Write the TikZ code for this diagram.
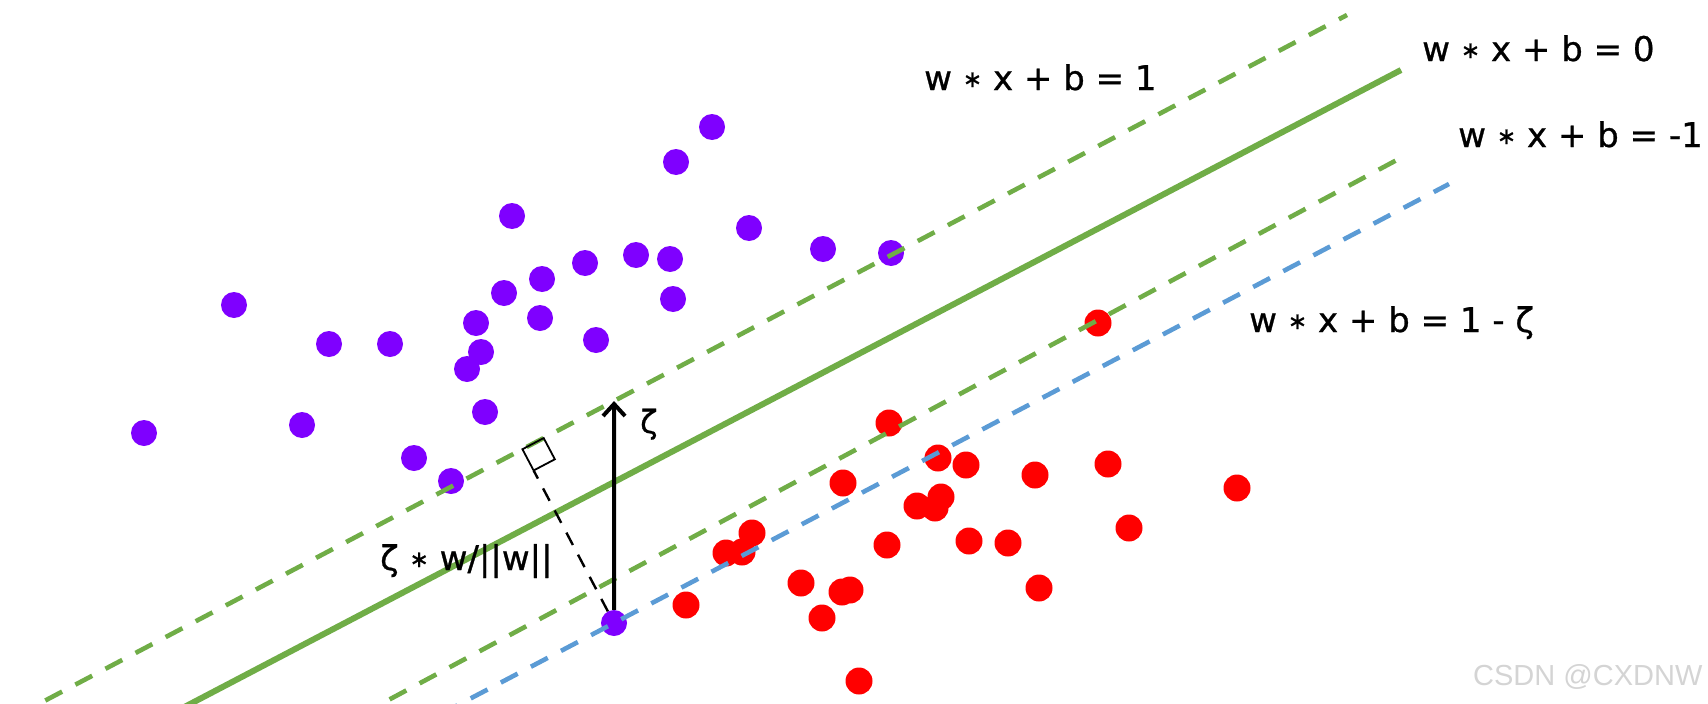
\documentclass[tikz,border=0pt]{standalone}
\usepackage{fontspec}
\usepackage{graphicx}
\setmainfont{DejaVu Sans}
\newfontfamily\labfont[FakeBold=0.8]{DejaVu Sans}
\newfontfamily\wmfont{Liberation Sans}
\usetikzlibrary{calc,arrows.meta}
\definecolor{svmgreen}{HTML}{70AD47}
\definecolor{svmblue}{HTML}{5B9BD5}
\definecolor{dotpurple}{HTML}{7F00FF}
\definecolor{dotred}{HTML}{FF0000}
\newcommand\smallast{\raisebox{3pt}{\scalebox{0.68}{∗}}}
\begin{document}
\begin{tikzpicture}[x=1pt,y=-1pt,
  dotbase/.style={circle,inner sep=0pt,minimum size=26pt},
  pdot/.style={dotbase,fill=dotpurple},
  rdot/.style={dotbase,fill=dotred,minimum size=27pt},
  solidline/.style={svmgreen,line width=6pt},
  gdash/.style={svmgreen,line width=4.6pt,dash pattern=on 19pt off 15pt},
  bdash/.style={svmblue,line width=4.6pt,dash pattern=on 19pt off 15pt},
  marginarrow/.style={black,line width=4pt,-{Straight Barb[length=12pt,width=22pt,line width=4pt]}},
  perpline/.style={black,line width=2.4pt,dash pattern=on 14pt off 11pt},
  rightangle/.style={black,line width=1.8pt},
  lab/.style={font=\labfont\fontsize{34}{40}\selectfont,inner sep=0pt,anchor=base west},
  wm/.style={font=\wmfont\fontsize{29}{34}\selectfont,text=black!17,inner sep=0pt,anchor=base west}]
\useasboundingbox (0,0) rectangle (1708,704);
\clip (0,0) rectangle (1708,704);
% purple points
\foreach \x/\y [count=\i] in {712/127,676/162,512/216,749/228,823/249,891/253,585/263,636/255,670/259,542/279,504/293,673/299,234/305,476/323,540/318,329/344,390/344,596/340,481/352,467/369,485/412,144/433,302/425,414/458,451/481}
  \node[pdot] (p\i) at (\x,\y) {};
\node[pdot] (P) at (614,623) {};
% red points
\foreach \x/\y [count=\i] in {1098/323,889/423,938/458,966/465,1035/475,1108/464,1237/488,843/483,917/506,941/497,935/508,752/533,726/553,742/552,887/545,969/541,1008/543,1129/528,801/583,850/590,842/592,1039/588,686/605,822/618,859/681}
  \node[rdot] (r\i) at (\x,\y) {};
% lines
\coordinate (A1) at (50,698);  \coordinate (B1) at (1347,15);
\coordinate (A0) at (192,703); \coordinate (B0) at (1401,70);
\coordinate (A2) at (381,704); \coordinate (B2) at (1408,154);
\coordinate (A3) at (460,704); \coordinate (B3) at (1449,184);
\draw[gdash] ($(A1)!-0.05!(B1)$) -- (B1);
\draw[solidline] ($(A0)!-0.05!(B0)$) -- (B0);
\draw[gdash] ($(A2)!-0.05!(B2)$) -- (B2);
\draw[bdash] ($(A3)!-0.05!(B3)$) -- (B3);
% margin arrow
\coordinate (Pup) at ($(P)+(0,-100)$);
\coordinate (T) at (intersection of A1--B1 and P--Pup);
\draw[marginarrow] (P) -- (T);
% perpendicular with right-angle mark
\coordinate (F) at ($(A1)!(P)!(B1)$);
\coordinate (S1) at ($(F)!24pt!(B1)$);
\coordinate (S3) at ($(F)!24pt!(P)$);
\draw[perpline] (P) -- (S3);
\draw[rightangle] (F) -- (S1) -- ($(S1)+(S3)-(F)$) -- (S3) -- cycle;
% labels
\node[lab] (l1) at (924,90) {w \smallast{} x + b = 1};
\node[lab] (l0) at (1422,61) {w \smallast{} x + b = 0};
\node[lab] (lm1) at (1458,147) {w \smallast{} x + b = -1};
\node[lab] (lz) at (1249,332) {w \smallast{} x + b = 1 - ζ};
\node[lab] (lw) at (380,570) {ζ \smallast{} w/||w||};
\node[lab,font=\labfont\fontsize{32}{38}\selectfont] (lzeta) at (640,433) {ζ};
\node[wm] (wmk) at (1473,685) {CSDN @CXDNW};
\end{tikzpicture}
\end{document}
